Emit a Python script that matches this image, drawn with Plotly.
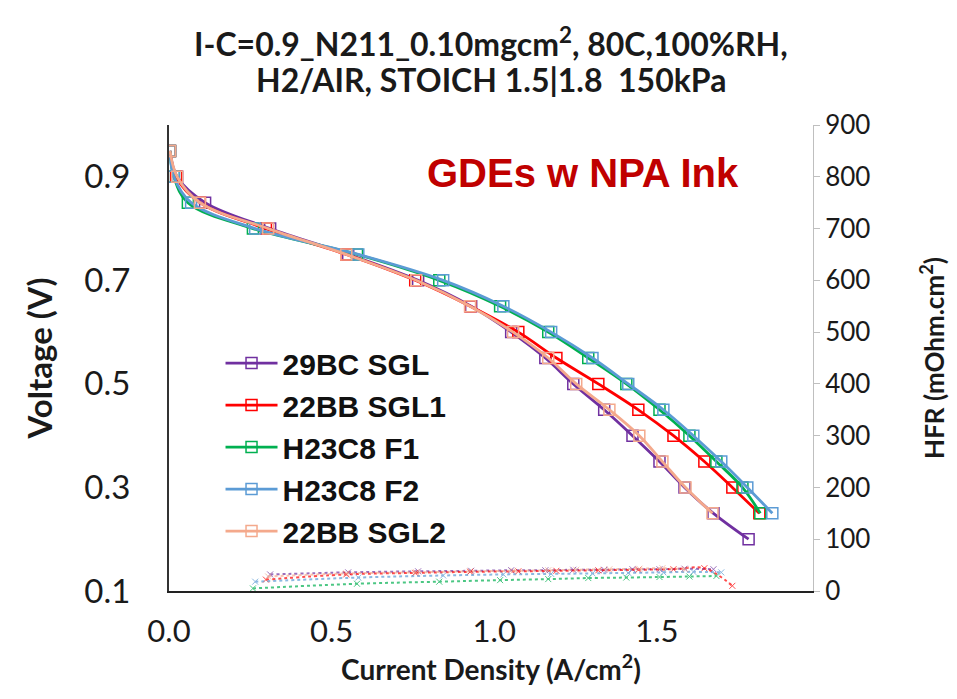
import plotly.graph_objects as go

# ---------------- data ----------------
voltage_steps = [0.95, 0.90, 0.85, 0.80, 0.75, 0.70, 0.65, 0.60, 0.55, 0.50,
                 0.45, 0.40, 0.35, 0.30, 0.25, 0.20]

series_names = ["29BC SGL", "22BB SGL1", "H23C8 F1", "H23C8 F2", "22BB SGL2"]

cd_29bc_sgl = [0.003, 0.025, 0.111, 0.311, 0.551, 0.766, 0.929, 1.052, 1.157, 1.243,
               1.338, 1.425, 1.508, 1.585, 1.674, 1.782]
cd_22bb_sgl1 = [0.003, 0.022, 0.095, 0.298, 0.545, 0.757, 0.926, 1.074, 1.191, 1.320,
                1.443, 1.551, 1.646, 1.732, 1.815]
cd_h23c8_f1 = [0.003, 0.015, 0.058, 0.258, 0.578, 0.831, 1.018, 1.166, 1.289, 1.406,
               1.508, 1.600, 1.683, 1.763, 1.818]
cd_h23c8_f2 = [0.003, 0.015, 0.068, 0.265, 0.582, 0.843, 1.028, 1.175, 1.302, 1.412,
               1.520, 1.612, 1.698, 1.778, 1.855]
cd_22bb_sgl2 = [0.003, 0.025, 0.095, 0.305, 0.545, 0.760, 0.926, 1.058, 1.166, 1.252,
                1.354, 1.446, 1.517, 1.588, 1.671]

# HFR (mOhm.cm2), measured from the 0.80 V point onward
hfr_29bc_sgl = [32, 36, 38, 39, 40, 40, 41, 41, 42, 42, 43, 42]
hfr_22bb_sgl1 = [22, 32, 35, 37, 38, 39, 40, 41, 42, 44, 10]
hfr_h23c8_f1 = [5, 14, 18, 21, 23, 25, 26, 27, 28, 29]
hfr_h23c8_f2 = [18, 26, 30, 32, 33, 34, 35, 36, 37, 36]
hfr_22bb_sgl2 = [28, 34, 36, 38, 39, 40, 41, 42, 43, 44, 42]

x_ticks = [0.0, 0.5, 1.0, 1.5]
x_tick_labels = ["0.0", "0.5", "1.0", "1.5"]
y_ticks = [0.1, 0.3, 0.5, 0.7, 0.9]
y_tick_labels = ["0.1", "0.3", "0.5", "0.7", "0.9"]
y2_ticks = [0, 100, 200, 300, 400, 500, 600, 700, 800, 900]

title_line1 = "I-C=0.9_N211_0.10mgcm<sup>2</sup>, 80C,100%RH,"
title_line2 = "H2/AIR, STOICH 1.5|1.8  150kPa"

colors = ["#7030A0", "#FF0000", "#00B050", "#5B9BD5", "#F4A98C"]

cds = [cd_29bc_sgl, cd_22bb_sgl1, cd_h23c8_f1, cd_h23c8_f2, cd_22bb_sgl2]
hfrs = [hfr_29bc_sgl, hfr_22bb_sgl1, hfr_h23c8_f1, hfr_h23c8_f2, hfr_22bb_sgl2]

CAL = "Lato, 'Open Sans', sans-serif"
ARIAL = "'Liberation Sans', Arial, sans-serif"
INK = "#1a1a1a"

fig = go.Figure()

# HFR dotted traces first (background)
for name, cd, hfr, col in zip(series_names, cds, hfrs, colors):
    fig.add_trace(go.Scatter(
        x=cd[3:3 + len(hfr)], y=hfr, yaxis="y2", mode="lines+markers",
        line=dict(color=col, width=2, dash="dot", shape="spline"),
        marker=dict(symbol="x-thin-open", size=6, line=dict(color=col, width=1)),
        opacity=0.7, showlegend=False, hoverinfo="skip"))

# Polarisation curves
for name, cd, col in zip(series_names, cds, colors):
    fig.add_trace(go.Scatter(
        x=cd, y=voltage_steps[:len(cd)], name=name, mode="lines+markers",
        line=dict(color=col, width=2.8, shape="spline", smoothing=1.0),
        marker=dict(symbol="square-open", size=11, color=col,
                    line=dict(color=col, width=1.5)),
    ))

fig.update_layout(
    width=957, height=699,
    margin=dict(l=161, r=152, t=117, b=116, autoexpand=False),
    paper_bgcolor="white", plot_bgcolor="white",
    xaxis=dict(
        range=[0, 1.98], tickvals=x_ticks, ticktext=x_tick_labels,
        automargin=False,
        showgrid=False, zeroline=False, showline=True, linecolor="#222",
        linewidth=2, ticks="", ticklabelstandoff=12,
        tickfont=dict(family=CAL, size=31, color=INK),
        title=dict(text="Current Density (A/cm<sup>2</sup>)",
                   font=dict(family=CAL, size=28, color=INK, weight="bold"),
                   standoff=8)),
    yaxis=dict(
        range=[0.1, 1.0], tickvals=y_ticks, ticktext=y_tick_labels,
        automargin=False,
        showgrid=False, zeroline=False, showline=True, linecolor="#333",
        linewidth=2, ticks="", ticklabelstandoff=30,
        tickfont=dict(family=CAL, size=33, color=INK),
        title=dict(text="Voltage (V)",
                   font=dict(family=CAL, size=33, color=INK, weight="bold"),
                   standoff=22)),
    yaxis2=dict(
        range=[0, 900], tickvals=y2_ticks, overlaying="y", side="right",
        automargin=False,
        showgrid=False, zeroline=False, showline=True, linecolor="#BFBFBF",
        linewidth=1, ticks="outside", ticklen=6, tickcolor="#BFBFBF",
        tickfont=dict(family=CAL, size=26, color=INK),
        title=dict(text="HFR (mOhm.cm<sup>2</sup>)",
                   font=dict(family=CAL, size=26, color=INK, weight="bold"),
                   standoff=56)),
    legend=dict(
        x=0.08, y=0.545, xanchor="left", yanchor="top",
        bgcolor="rgba(0,0,0,0)", borderwidth=0,
        font=dict(family=ARIAL, size=30, color="#111", weight="bold"),
        itemwidth=52),
    annotations=[
        dict(text="GDEs w NPA Ink", x=0.643, y=0.898, xref="paper", yref="paper",
             showarrow=False, xanchor="center", yanchor="middle",
             font=dict(family=ARIAL, size=40, color="#C00000", weight="bold")),
        dict(text=title_line1, x=0.5, y=34, xref="paper", yref="paper",
             showarrow=False, xanchor="center", yanchor="middle",
             font=dict(family=CAL, size=32, color=INK, weight="bold")),
        dict(text=title_line2, x=0.5, y=72, xref="paper", yref="paper",
             showarrow=False, xanchor="center", yanchor="middle",
             font=dict(family=CAL, size=32, color=INK, weight="bold")),
    ],
)

# convert the two title lines' pixel rows to paper coordinates
plot_h = 699 - 117 - 116
for ann in fig.layout.annotations[1:]:
    ann.y = (699 - 116 - ann.y) / plot_h

fig.write_html("out.html")
